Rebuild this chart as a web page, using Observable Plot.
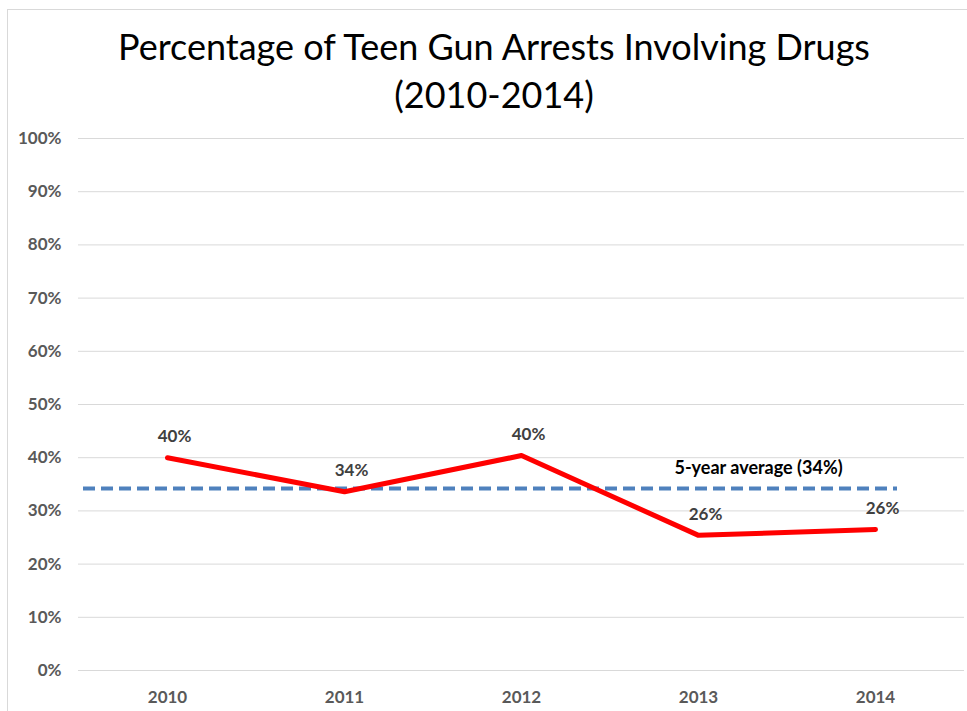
<!DOCTYPE html>
<html>
<head>
<meta charset="utf-8">
<script src="https://cdn.jsdelivr.net/npm/d3@7"></script>
<script src="https://cdn.jsdelivr.net/npm/@observablehq/plot@0.6"></script>
<style>
  html, body { margin: 0; padding: 0; background: #fff; }
  #wrap { position: relative; width: 967px; height: 711px; overflow: hidden; }
  #frame { position: absolute; left: 7px; top: 9px; right: -2px; bottom: -2px;
           border-left: 1px solid #d9d9d9; border-top: 1px solid #d9d9d9; }
  #title { position: absolute; left: 0; top: 22px; width: 988px; text-align: center;
           font-family: Lato, "Open Sans", sans-serif; font-size: 36px; line-height: 48px; color: #000; }
  #chart { position: absolute; left: 0; top: 0; }
</style>
</head>
<body>
<div id="wrap">
  <div id="frame"></div>
  <div id="chart"></div>
  <div id="title">Percentage of Teen Gun Arrests Involving Drugs<br>(2010-2014)</div>
</div>
<script>
const years = ["2010", "2011", "2012", "2013", "2014"];
const percents = [40.0, 33.6, 40.4, 25.4, 26.5];
const percentLabels = ["40%", "34%", "40%", "26%", "26%"];
const averageValue = 34.2;
const averageLabel = "5-year average (34%)";
const yTicks = [0, 10, 20, 30, 40, 50, 60, 70, 80, 90, 100];

const data = years.map((year, i) => ({year, value: percents[i], label: percentLabels[i]}));

const chart = Plot.plot({
  width: 967,
  height: 711,
  marginLeft: 78,
  marginRight: 3,
  marginTop: 138,
  marginBottom: 41,
  style: {fontFamily: "Lato, 'Open Sans', sans-serif", background: "transparent"},
  x: {type: "point", domain: years, padding: 0.5},
  y: {domain: [0, 100]},
  marks: [
    Plot.ruleY(yTicks, {stroke: "#d9d9d9", strokeWidth: 1}),
    Plot.axisY(yTicks, {tickSize: 0, tickPadding: 17, tickFormat: d => d + "%",
      fontSize: 17, fontWeight: "bold", color: "#595959", label: null}),
    Plot.axisX({tickSize: 0, tickPadding: 20, fontSize: 17, fontWeight: "bold",
      color: "#595959", label: null}),
    Plot.ruleY([averageValue], {stroke: "#4f81bd", strokeWidth: 4,
      strokeDasharray: "12,6", insetLeft: 5, insetRight: 67}),
    Plot.line(data, {x: "year", y: "value", stroke: "#ff0000", strokeWidth: 5,
      strokeLinejoin: "round", strokeLinecap: "round"}),
    Plot.text(data, {x: "year", y: "value", text: "label", dx: 7, dy: -21,
      fontSize: 17, fontWeight: "bold", fill: "#404040"}),
    Plot.text([averageLabel], {x: () => "2013", y: () => averageValue, text: d => d,
      dx: 60, dy: -20, fontSize: 18, fontWeight: "bold", fill: "#000"})
  ]
});
document.getElementById("chart").appendChild(chart);
</script>
</body>
</html>
